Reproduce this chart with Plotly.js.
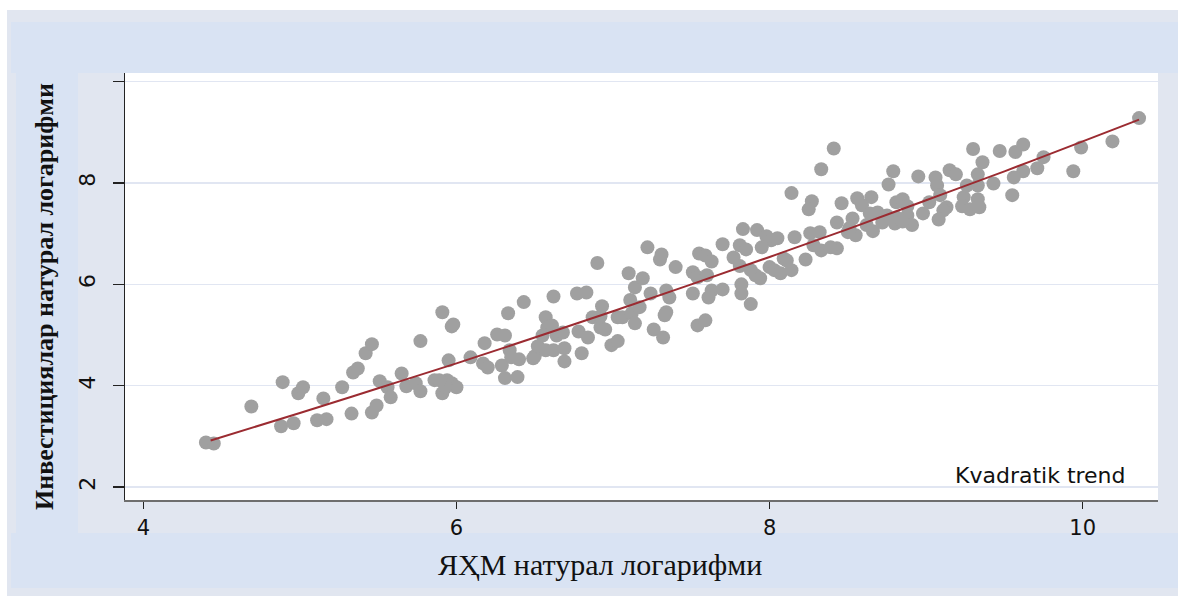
<!DOCTYPE html>
<html>
<head>
<meta charset="utf-8">
<script src="https://cdn.plot.ly/plotly-3.0.1.min.js"></script>
<style>
  html, body { margin: 0; padding: 0; background: #ffffff; }
  #chart { width: 1178px; height: 596px; }
</style>
</head>
<body>
<div id="chart"></div>
<script>
// ЯҲМ натурал логарифми (x) and Инвестициялар натурал логарифми (y)
const gdpLog = [
  4.40, 4.45, 4.69, 4.89, 4.88, 4.96, 4.99, 5.02, 5.15, 5.11, 5.17, 5.27, 5.33, 5.34, 5.37,
  5.42, 5.46, 5.46, 5.49, 5.51, 5.56, 5.58, 5.65, 5.68, 5.74, 5.77, 5.77, 5.86, 5.91, 5.97,
  5.98, 5.95, 5.91, 5.94, 5.97, 6.00, 5.93, 5.89,
  6.09, 6.18, 6.17, 6.20, 6.26, 6.31, 6.29, 6.34, 6.35, 6.33, 6.31, 6.39, 6.40, 6.43, 6.49,
  6.50, 6.52, 6.57, 6.58, 6.61, 6.57, 6.62, 6.55, 6.64, 6.68, 6.69, 6.69, 6.62, 6.77, 6.83,
  6.78, 6.84, 6.80, 6.90, 6.87, 6.92, 6.93, 6.92, 6.95, 6.99, 7.03, 7.03, 7.06, 7.12, 7.11,
  7.10, 7.14, 7.19, 7.14, 7.17, 7.24, 7.22, 7.31, 7.30, 7.40, 7.34, 7.36, 7.34, 7.33, 7.26, 7.32,
  7.55, 7.59, 7.63, 7.77, 7.70, 7.83, 7.92, 7.98, 8.01, 8.05, 7.95, 7.81, 7.85, 7.81, 7.88,
  7.91, 7.94, 8.00, 8.03, 8.09, 8.11, 8.07, 8.14, 8.23, 7.51, 7.54, 7.60, 7.51, 7.63, 7.70,
  7.61, 7.82, 7.82, 7.88, 7.54, 7.59, 8.14, 8.27, 8.25, 8.46, 8.33, 8.41, 8.43, 8.53, 8.50,
  8.55, 8.26, 8.32, 8.16, 8.33, 8.28, 8.43, 8.39,
  8.56, 8.65, 8.59, 8.69, 8.62, 8.66, 8.64, 8.75, 8.81, 8.88, 8.72, 8.80, 8.91, 8.85, 8.51,
  8.81, 8.85, 8.88, 8.79, 8.76, 8.95, 9.06, 9.07, 9.15, 9.19, 9.09, 9.02, 9.13, 9.11, 8.98,
  9.08, 9.24, 9.33, 9.23, 9.28, 9.34, 9.26, 9.33, 9.30, 9.36, 9.33, 9.43, 9.47,
  9.57, 9.62, 9.71, 9.75, 9.62, 9.56, 9.55, 9.94, 9.99, 10.19, 10.36
];
const investLog = [
  2.88, 2.86, 3.59, 4.07, 3.20, 3.26, 3.85, 3.97, 3.75, 3.32, 3.34, 3.97, 3.45, 4.26, 4.34,
  4.64, 4.82, 3.47, 3.61, 4.09, 3.97, 3.77, 4.24, 3.99, 4.05, 3.89, 4.88, 4.11, 5.45, 5.17,
  5.21, 4.50, 3.85, 4.11, 4.05, 3.97, 3.97, 4.11,
  4.56, 4.84, 4.44, 4.36, 5.01, 4.99, 4.40, 4.70, 4.56, 5.43, 4.15, 4.17, 4.52, 5.65, 4.54,
  4.58, 4.78, 5.35, 5.15, 5.19, 4.70, 4.70, 4.99, 4.99, 5.05, 4.74, 4.48, 5.76, 5.82, 5.84,
  5.07, 4.95, 4.64, 6.42, 5.35, 5.37, 5.57, 5.15, 5.11, 4.80, 4.88, 5.35, 5.35, 5.43, 5.69,
  6.22, 5.94, 6.12, 5.23, 5.55, 5.82, 6.73, 6.59, 6.49, 6.34, 5.88, 5.74, 5.45, 5.39, 5.11, 4.95,
  6.61, 6.57, 6.45, 6.53, 6.79, 7.09, 7.07, 6.95, 6.87, 6.91, 6.73, 6.77, 6.69, 6.36, 6.28,
  6.18, 6.12, 6.34, 6.28, 6.51, 6.47, 6.22, 6.28, 6.49, 6.24, 6.14, 6.18, 5.82, 5.88, 5.90,
  5.74, 6.00, 5.82, 5.61, 5.19, 5.29, 7.80, 7.64, 7.48, 7.60, 8.27, 8.68, 7.22, 7.30, 7.03,
  6.97, 7.01, 7.03, 6.93, 6.67, 6.77, 6.71, 6.73,
  7.70, 7.72, 7.56, 7.42, 7.17, 7.05, 7.40, 7.36, 7.32, 7.36, 7.22, 7.20, 7.17, 7.24, 7.11,
  7.62, 7.68, 7.54, 8.23, 7.97, 8.13, 8.11, 7.95, 8.25, 8.17, 7.76, 7.62, 7.52, 7.46, 7.40,
  7.28, 7.72, 7.68, 7.54, 7.48, 7.52, 7.95, 7.95, 8.67, 8.41, 8.17, 7.99, 8.63,
  8.61, 8.76, 8.29, 8.51, 8.23, 8.11, 7.76, 8.23, 8.70, 8.82, 9.28
];

// Quadratic trend line at these x positions
const trendX = [4.43, 5.0, 5.5, 6.0, 6.5, 7.0, 7.5, 8.0, 8.5, 9.0, 9.5, 10.0, 10.36];
const trendY = [2.92, 3.46, 3.95, 4.44, 4.95, 5.47, 6.00, 6.54, 7.09, 7.66, 8.23, 8.82, 9.25];

const xTicks = [4, 6, 8, 10];
const yTicks = [2, 4, 6, 8, 10];
const yTickText = ['2', '4', '6', '8', ''];

const xTitle = 'ЯҲМ натурал логарифми';
const yTitle = 'Инвестициялар натурал логарифми';
const trendLabel = 'Kvadratik trend';

const outerCol = '#e1e6f0';
const bandCol = '#d9e3f3';

const traces = [
  {
    type: 'scatter', mode: 'markers', x: gdpLog, y: investLog,
    marker: { size: 14, color: '#a0a0a0', line: { width: 0 } },
    hoverinfo: 'skip', showlegend: false
  },
  {
    type: 'scatter', mode: 'lines', x: trendX, y: trendY,
    line: { color: '#9b2b31', width: 2, shape: 'spline' },
    hoverinfo: 'skip', showlegend: false
  }
];

const layout = {
  width: 1178, height: 596,
  margin: { l: 125, r: 20, t: 73, b: 96, pad: 0 },
  paper_bgcolor: outerCol,
  plot_bgcolor: '#ffffff',
  showlegend: false,
  hovermode: false,
  font: { family: 'Liberation Sans, Arial, sans-serif', color: '#111111' },
  xaxis: {
    range: [3.883, 10.481],
    tickvals: xTicks,
    ticktext: xTicks.map(String),
    ticks: 'outside', ticklen: 7, tickwidth: 1.5, tickcolor: '#222222',
    tickfont: { size: 21, family: 'DejaVu Sans, sans-serif', color: '#111111' },
    ticklabelstandoff: 1,
    showgrid: false, zeroline: false,
    showline: true, linecolor: '#6e6e6e', linewidth: 2,
    automargin: false, fixedrange: true
  },
  yaxis: {
    range: [1.745, 10.17],
    tickvals: yTicks,
    ticktext: yTickText,
    tickangle: -90,
    ticks: 'outside', ticklen: 11, tickwidth: 1.5, tickcolor: '#222222',
    tickfont: { size: 22, family: 'DejaVu Sans, sans-serif', color: '#111111' },
    ticklabelstandoff: 9,
    showgrid: true, gridcolor: '#e1e6f2', gridwidth: 1.5,
    zeroline: false,
    showline: true, linecolor: '#222222', linewidth: 1.5,
    automargin: false, fixedrange: true
  },
  shapes: [
    // white outer margin (top and left)
    { type: 'rect', xref: 'paper', yref: 'paper', x0: -0.125, x1: 1.025, y0: 1.1475, y1: 1.175,
      fillcolor: '#ffffff', line: { width: 0 }, layer: 'below' },
    { type: 'rect', xref: 'paper', yref: 'paper', x0: -0.125, x1: -0.1142, y0: -0.23, y1: 1.175,
      fillcolor: '#ffffff', line: { width: 0 }, layer: 'below' },
    // light blue bands: top (title area), left (y title), bottom (x title)
    { type: 'rect', xref: 'paper', yref: 'paper', x0: -0.1104, x1: 1.025, y0: 1.0, y1: 1.1194,
      fillcolor: bandCol, line: { width: 0 }, layer: 'below' },
    { type: 'rect', xref: 'paper', yref: 'paper', x0: -0.1055, x1: -0.0455, y0: -0.0796, y1: 1.0,
      fillcolor: bandCol, line: { width: 0 }, layer: 'below' },
    { type: 'rect', xref: 'paper', yref: 'paper', x0: -0.1104, x1: 1.025, y0: -0.2061, y1: -0.0773,
      fillcolor: bandCol, line: { width: 0 }, layer: 'below' }
  ],
  annotations: [
    { text: xTitle, xref: 'paper', yref: 'paper', x: 0.4598, y: -0.1522,
      xanchor: 'center', yanchor: 'middle', showarrow: false,
      font: { family: 'Liberation Serif, Times New Roman, serif', size: 30, color: '#111111' } },
    { text: '<b>' + yTitle + '</b>', xref: 'paper', yref: 'paper', x: -0.0784, y: 0.4754,
      xanchor: 'center', yanchor: 'middle', showarrow: false, textangle: -90,
      font: { family: 'Liberation Serif, Times New Roman, serif', size: 26, color: '#111111' } },
    { text: trendLabel, xref: 'paper', yref: 'paper', x: 0.971, y: 0.0585,
      xanchor: 'right', yanchor: 'middle', showarrow: false,
      font: { family: 'DejaVu Sans, sans-serif', size: 22, color: '#111111' } }
  ]
};

Plotly.newPlot('chart', traces, layout, { displayModeBar: false, staticPlot: true });
</script>
</body>
</html>
